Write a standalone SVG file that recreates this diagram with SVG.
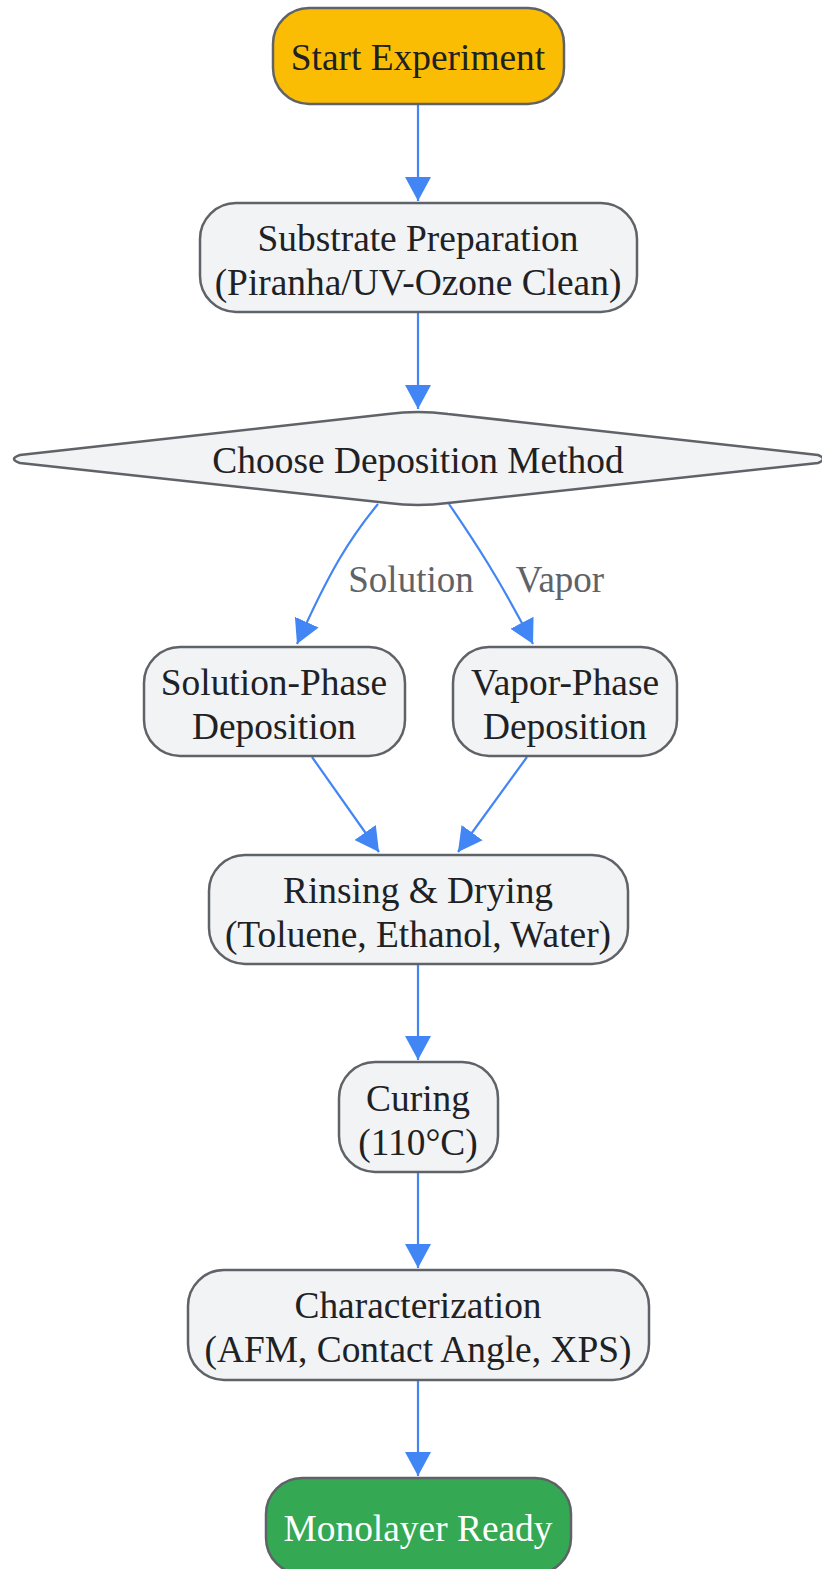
<svg xmlns="http://www.w3.org/2000/svg" width="822" height="1569" viewBox="0 0 822 1569">
<defs>
<marker id="arr" viewBox="0 0 24 30" refX="24" refY="15" markerWidth="24" markerHeight="30" markerUnits="userSpaceOnUse" orient="auto">
<path d="M0,2 L24,15 L0,28 Z" fill="#4285F4"/>
</marker>
<style>
.n{fill:#F1F3F4;stroke:#5F6368;stroke-width:2.5}
.t{font-family:"Liberation Serif","Times New Roman",serif;font-size:37.4px;fill:#202124;text-anchor:middle}
.e{fill:none;stroke:#4285F4;stroke-width:2.2;marker-end:url(#arr)}
.l{font-family:"Liberation Serif","Times New Roman",serif;font-size:37px;fill:#5F6368;text-anchor:middle}
</style>
</defs>
<rect width="822" height="1569" fill="#FFFFFF"/>
<g id="connectors">
<path class="e" d="M418,104 L418,201"/>
<path class="e" d="M418,312 L418,409"/>
<path class="e" d="M378,504 C350,538 330,570 297,644"/>
<path class="e" d="M449,504 C475,542 500,580 533,644"/>
<path class="e" d="M312,757 L379,852"/>
<path class="e" d="M527,757 L458,852"/>
<path class="e" d="M418,964 L418,1060"/>
<path class="e" d="M418,1172 L418,1268"/>
<path class="e" d="M418,1380 L418,1476"/>
<text class="l" x="411" y="592">Solution</text>
<text class="l" x="560" y="592">Vapor</text>
</g>
<g id="start">
<rect x="273" y="8" width="291" height="96" rx="36" fill="#FBBC04" stroke="#5F6368" stroke-width="2.5"/>
<text class="t" x="418" y="70">Start Experiment</text>
</g>
<g id="substrate">
<rect class="n" x="200" y="203" width="437" height="109" rx="36"/>
<text class="t" x="418" y="251">Substrate Preparation</text>
<text class="t" x="418" y="295">(Piranha/UV-Ozone Clean)</text>
</g>
<g id="choose">
<path class="n" d="M388,414 Q418,410 448,414 L818,455 Q828,459 818,463 L448,503 Q418,507 388,503 L20,463 Q8,459 20,455 Z"/>
<text class="t" x="418" y="473">Choose Deposition Method</text>
</g>
<g id="solution">
<rect class="n" x="144" y="647" width="261" height="109" rx="36"/>
<text class="t" x="274" y="695">Solution-Phase</text>
<text class="t" x="274" y="739">Deposition</text>
</g>
<g id="vapor">
<rect class="n" x="453" y="647" width="224" height="109" rx="36"/>
<text class="t" x="565" y="695">Vapor-Phase</text>
<text class="t" x="565" y="739">Deposition</text>
</g>
<g id="rinsing">
<rect class="n" x="209" y="855" width="419" height="109" rx="36"/>
<text class="t" x="418" y="903">Rinsing &amp; Drying</text>
<text class="t" x="418" y="947">(Toluene, Ethanol, Water)</text>
</g>
<g id="curing">
<rect class="n" x="339" y="1062" width="159" height="110" rx="36"/>
<text class="t" x="418" y="1111">Curing</text>
<text class="t" x="418" y="1155">(110°C)</text>
</g>
<g id="characterization">
<rect class="n" x="188" y="1270" width="461" height="110" rx="36"/>
<text class="t" x="418" y="1318">Characterization</text>
<text class="t" x="418" y="1362">(AFM, Contact Angle, XPS)</text>
</g>
<g id="ready">
<rect x="266" y="1478" width="305" height="96" rx="36" fill="#34A853" stroke="#5F6368" stroke-width="2.5"/>
<text class="t" x="418" y="1541" style="fill:#FFFFFF">Monolayer Ready</text>
</g>
</svg>
